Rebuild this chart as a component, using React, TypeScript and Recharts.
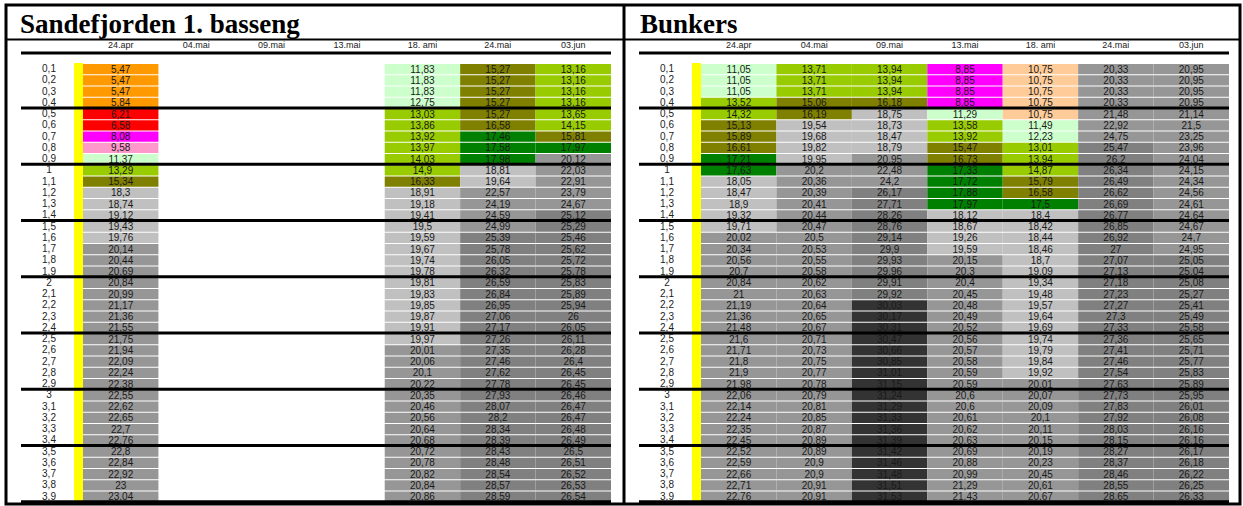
import { BarChart, Bar, XAxis, YAxis, Cell, LabelList, ReferenceLine, ReferenceArea } from "recharts";

const depths = [
  "0,1", "0,2", "0,3", "0,4", "0,5", "0,6", "0,7", "0,8", "0,9",
  "1", "1,1", "1,2", "1,3", "1,4", "1,5", "1,6", "1,7", "1,8", "1,9",
  "2", "2,1", "2,2", "2,3", "2,4", "2,5", "2,6", "2,7", "2,8", "2,9",
  "3", "3,1", "3,2", "3,3", "3,4", "3,5", "3,6", "3,7", "3,8", "3,9",
];
const dates = ["24.apr", "04.mai", "09.mai", "13.mai", "18. ami", "24.mai", "03.jun"];
const groupStarts = ["0,5", "1", "1,5", "2", "2,5", "3", "3,5"];

// Sandefjorden 1. basseng
const sfApr24 = [5.47, 5.47, 5.47, 5.84, 6.21, 6.58, 8.08, 9.58, 11.37, 13.29, 15.34, 18.3, 18.74, 19.12, 19.43, 19.76, 20.14, 20.44, 20.69, 20.84, 20.99, 21.17, 21.36, 21.55, 21.75, 21.94, 22.09, 22.24, 22.38, 22.55, 22.62, 22.65, 22.7, 22.76, 22.8, 22.84, 22.92, 23, 23.04];
const sfAmi18 = [11.83, 11.83, 11.83, 12.75, 13.03, 13.86, 13.92, 13.97, 14.03, 14.9, 16.33, 18.91, 19.18, 19.41, 19.5, 19.59, 19.67, 19.74, 19.78, 19.81, 19.83, 19.85, 19.87, 19.91, 19.97, 20.01, 20.06, 20.1, 20.22, 20.35, 20.46, 20.56, 20.64, 20.68, 20.72, 20.78, 20.82, 20.84, 20.86];
const sfMai24 = [15.27, 15.27, 15.27, 15.27, 15.27, 16.58, 17.46, 17.58, 17.98, 18.81, 19.64, 22.57, 24.19, 24.59, 24.99, 25.39, 25.78, 26.05, 26.32, 26.59, 26.84, 26.95, 27.06, 27.17, 27.26, 27.35, 27.46, 27.62, 27.78, 27.93, 28.07, 28.2, 28.34, 28.39, 28.43, 28.48, 28.54, 28.57, 28.59];
const sfJun03 = [13.16, 13.16, 13.16, 13.16, 13.65, 14.15, 15.81, 17.97, 20.12, 22.03, 22.91, 23.79, 24.67, 25.12, 25.29, 25.46, 25.62, 25.72, 25.78, 25.83, 25.89, 25.94, 26, 26.05, 26.11, 26.28, 26.4, 26.45, 26.45, 26.46, 26.47, 26.47, 26.48, 26.49, 26.5, 26.51, 26.52, 26.53, 26.54];

// Bunkers
const bkApr24 = [11.05, 11.05, 11.05, 13.52, 14.32, 15.13, 15.89, 16.61, 17.21, 17.63, 18.05, 18.47, 18.9, 19.32, 19.71, 20.02, 20.34, 20.56, 20.7, 20.84, 21, 21.19, 21.36, 21.48, 21.6, 21.71, 21.8, 21.9, 21.98, 22.06, 22.14, 22.24, 22.35, 22.45, 22.52, 22.59, 22.66, 22.71, 22.76];
const bkMai04 = [13.71, 13.71, 13.71, 15.06, 16.19, 19.54, 19.68, 19.82, 19.95, 20.2, 20.36, 20.39, 20.41, 20.44, 20.47, 20.5, 20.53, 20.55, 20.58, 20.62, 20.63, 20.64, 20.65, 20.67, 20.71, 20.73, 20.75, 20.77, 20.78, 20.79, 20.81, 20.85, 20.87, 20.89, 20.89, 20.9, 20.9, 20.91, 20.91];
const bkMai09 = [13.94, 13.94, 13.94, 16.18, 18.75, 18.73, 18.47, 18.79, 20.95, 22.48, 24.2, 26.17, 27.71, 28.26, 28.76, 29.14, 29.9, 29.93, 29.96, 29.91, 29.92, 30.03, 30.17, 30.31, 30.47, 30.66, 30.85, 31.01, 31.15, 31.24, 31.29, 31.33, 31.36, 31.39, 31.42, 31.46, 31.48, 31.51, 31.53];
const bkMai13 = [8.85, 8.85, 8.85, 8.85, 11.29, 13.58, 13.92, 15.47, 16.73, 17.33, 17.72, 17.88, 17.97, 18.12, 18.67, 19.26, 19.59, 20.15, 20.3, 20.4, 20.45, 20.48, 20.49, 20.52, 20.56, 20.57, 20.58, 20.59, 20.59, 20.6, 20.6, 20.61, 20.62, 20.63, 20.69, 20.88, 20.99, 21.29, 21.43];
const bkAmi18 = [10.75, 10.75, 10.75, 10.75, 10.75, 11.49, 12.23, 13.01, 13.94, 14.87, 15.79, 16.58, 17.5, 18.4, 18.42, 18.44, 18.46, 18.7, 19.09, 19.34, 19.48, 19.57, 19.64, 19.69, 19.74, 19.79, 19.84, 19.92, 20.01, 20.07, 20.09, 20.1, 20.11, 20.15, 20.19, 20.23, 20.45, 20.61, 20.67];
const bkMai24 = [20.33, 20.33, 20.33, 20.33, 21.48, 22.92, 24.75, 25.47, 26.2, 26.34, 26.49, 26.62, 26.69, 26.77, 26.85, 26.92, 27, 27.07, 27.13, 27.18, 27.23, 27.27, 27.3, 27.33, 27.36, 27.41, 27.46, 27.54, 27.63, 27.73, 27.83, 27.92, 28.03, 28.15, 28.27, 28.37, 28.46, 28.55, 28.65];
const bkJun03 = [20.95, 20.95, 20.95, 20.95, 21.14, 21.5, 23.25, 23.96, 24.04, 24.15, 24.34, 24.56, 24.61, 24.64, 24.67, 24.7, 24.95, 25.05, 25.04, 25.08, 25.27, 25.41, 25.49, 25.58, 25.65, 25.71, 25.77, 25.83, 25.89, 25.95, 26.01, 26.08, 26.16, 26.16, 26.17, 26.18, 26.22, 26.25, 26.33];

const sfColumns = [sfApr24, null, null, null, sfAmi18, sfMai24, sfJun03];
const bkColumns = [bkApr24, bkMai04, bkMai09, bkMai13, bkAmi18, bkMai24, bkJun03];

const FONT = "'Liberation Sans', Arial, sans-serif";

// temperature colour bands
function colorFor(v: number | null) {
  if (v == null) return "transparent";
  if (v < 6) return "#FF9900";
  if (v < 8) return "#FF0000";
  if (v < 9) return "#FF00FF";
  if (v < 10) return "#FF99CC";
  if (v < 11) return "#FFCC99";
  if (v < 13) return "#CCFFCC";
  if (v < 15) return "#99CC00";
  if (v < 17) return "#808000";
  if (v < 18) return "#008000";
  if (v < 20) return "#C0C0C0";
  if (v < 25) return "#969696";
  if (v < 30) return "#808080";
  return "#333333";
}

const fmt = (v: any) => (v == null ? "" : String(v).replace(".", ","));

const HeaderTick = (props: any) => {
  const { x, payload } = props;
  return (
    <text x={x} y={48} textAnchor="middle" fontSize={9} fontFamily={"'Liberation Sans Narrow', " + FONT} fill="#222">
      {dates[Math.floor(payload.value)]}
    </text>
  );
};

const RowTick = (props: any) => {
  const { y, payload } = props;
  return (
    <text x={49} y={y} dy="0.35em" textAnchor="middle" fontSize={10} fontFamily={FONT} fill="#222">
      {payload.value}
    </text>
  );
};

function Panel({ columns, left }: { columns: (number[] | null)[]; left: number }) {
  const rows = depths.map((d, i) => {
    const r: any = { depth: d };
    columns.forEach((col, c) => {
      r["w" + c] = 1;
      r["t" + c] = col ? col[i] : null;
    });
    return r;
  });

  return (
    <div style={{ position: "absolute", left, top: 0 }}>
      <BarChart
        width={620}
        height={506}
        data={rows}
        layout="vertical"
        margin={{ top: 33, right: 9, bottom: 4.25, left: 20 }}
        barCategoryGap={0}
      >
        <XAxis
          type="number"
          orientation="top"
          domain={[-0.822, 7]}
          ticks={[0.5, 1.5, 2.5, 3.5, 4.5, 5.5, 6.5]}
          interval={0}
          allowDataOverflow
          height={20}
          tickLine={false}
          axisLine={{ stroke: "#000", strokeWidth: 3 }}
          tick={<HeaderTick />}
        />
        <YAxis
          type="category"
          dataKey="depth"
          width={1}
          interval={0}
          padding={{ top: 10, bottom: 0 }}
          axisLine={false}
          tickLine={false}
          tick={<RowTick />}
        />
        <ReferenceArea x1={-0.119} x2={0} y1="0,1" y2="3,9" fill="#FFFF00" fillOpacity={1} stroke="none" ifOverflow="visible" />
        {columns.map((col, c) => (
          <Bar key={c} dataKey={"w" + c} stackId="s" barSize={11.4} isAnimationActive={false}>
            {rows.map((_, i) => (
              <Cell key={i} fill={colorFor(col ? col[i] : null)} />
            ))}
            <LabelList dataKey={"t" + c} position="center" formatter={fmt} fontSize={10} fontFamily={FONT} fill="#1a1a1a" />
          </Bar>
        ))}
        {groupStarts.map((g) => (
          <ReferenceLine key={g} y={g} position="start" stroke="#000" strokeWidth={3} />
        ))}
        <ReferenceLine y="3,9" position="end" stroke="#000" strokeWidth={3} />
      </BarChart>
    </div>
  );
}

export default function App() {
  return (
    <div style={{ position: "absolute", left: 0, top: 0, width: 1243, height: 506, background: "#fff" }}>
      <svg width={1243} height={506} style={{ position: "absolute", left: 0, top: 0 }}>
        <rect x={6} y={5} width={1234} height={499} fill="none" stroke="#000" strokeWidth={3} />
        <line x1={624} y1={5} x2={624} y2={504} stroke="#000" strokeWidth={3} />
        <line x1={6} y1={39.5} x2={1240} y2={39.5} stroke="#000" strokeWidth={2} />
        <text x={20} y={33} fontFamily="'Liberation Serif', 'Times New Roman', serif" fontWeight="bold" fontSize={27} fill="#000">
          Sandefjorden 1. basseng
        </text>
        <text x={640} y={33} fontFamily="'Liberation Serif', 'Times New Roman', serif" fontWeight="bold" fontSize={27} fill="#000">
          Bunkers
        </text>
      </svg>
      <Panel columns={sfColumns} left={0} />
      <Panel columns={bkColumns} left={618} />
    </div>
  );
}
